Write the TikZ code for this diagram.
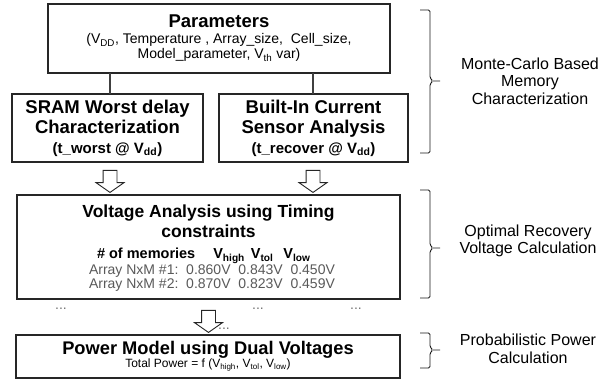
\documentclass[tikz,border=0pt]{standalone}
\usepackage{fontspec}
\setmainfont{Liberation Sans}
\usetikzlibrary{shapes.arrows}

\newcommand{\ttlf}{\fontsize{18.5}{20}\selectfont\bfseries}
\newcommand{\txtf}{\fontsize{14}{15}\selectfont}

\begin{document}
\begin{tikzpicture}[x=1pt,y=-1pt,inner sep=0pt,outer sep=0pt,line width=1.2pt,
blockbox/.style={draw=black!85,rectangle,align=center,line width=1.2pt},
downarrow/.style={draw=black!85,fill=white,single arrow,rotate=-90,minimum height=22pt,inner xsep=0pt,inner ysep=6.5pt,single arrow head extend=7pt,single arrow tip angle=110,line width=0.9pt},
conn/.style={draw=black!75,line width=1.2pt},
bracket/.style={draw=black!90,line width=0.9pt,rounded corners=1.5pt},
sidetext/.style={align=center,font=\fontsize{16}{17.5}\selectfont},
rowtext/.style={text=black!65,font=\txtf},
dotstext/.style={text=black!55,font=\txtf}]

\useasboundingbox (0,0) rectangle (603,383);

% memory characterization
\node[blockbox,minimum width=342pt,minimum height=69pt,font=\txtf] (params) at (219,38.5)
  {{\ttlf Parameters}\\[1pt] (V\textsubscript{DD}, Temperature , Array\_size,\ \ Cell\_size,\\ Model\_parameter, V\textsubscript{th} var)};
\node[blockbox,minimum width=191pt,minimum height=68pt,font=\ttlf] (sram) at (107.5,128)
  {SRAM Worst delay\\ Characterization\\ {\fontsize{15}{16}\selectfont (t\_worst @ V\textsubscript{dd})}};
\node[blockbox,minimum width=189pt,minimum height=68pt,font=\ttlf] (bics) at (313.5,128)
  {Built-In Current\\ Sensor Analysis\\ {\fontsize{15}{16}\selectfont (t\_recover @ V\textsubscript{dd})}};

\node[downarrow] (arr1) at (110,179) {};
\node[downarrow] (arr2) at (313,179) {};

% voltage calculation
\node[blockbox,minimum width=383pt,minimum height=104pt] (volt) at (208.5,247) {};
\node[align=center,font=\fontsize{17.5}{20}\selectfont\bfseries] (volttitle) at (208.5,221)
  {Voltage Analysis using Timing\\ constraints};
\node[font=\fontsize{14.5}{15}\selectfont\bfseries,anchor=west] (vhead) at (97,256)
  {\# of memories\hspace{18pt}V\textsubscript{high}\hspace{6pt}V\textsubscript{tol}\hspace{10pt}V\textsubscript{low}};
\node[rowtext,anchor=west] (vrow1) at (89,271) {Array NxM \#1:\ \ 0.860V\ \ 0.843V\ \ 0.450V};
\node[rowtext,anchor=west] (vrow2) at (89,285) {Array NxM \#2:\ \ 0.870V\ \ 0.823V\ \ 0.459V};

\node[dotstext] (dotsa) at (61,309) {...};
\node[dotstext] (dotsb) at (258,309) {...};
\node[dotstext] (dotsc) at (356,309) {...};
\node[downarrow] (arr3) at (208.5,319) {};
\node[dotstext] (dotsd) at (224,329) {...};

% power calculation
\node[blockbox,minimum width=384pt,minimum height=43pt,font=\fontsize{12}{13}\selectfont] (power) at (208,356.5)
  {{\fontsize{18.3}{20}\selectfont\bfseries Power Model using Dual Voltages}\\[0pt] Total Power = f (V\textsubscript{high}, V\textsubscript{tol}, V\textsubscript{low})};

\draw[conn] (params.south -| arr1) -- (sram.north -| arr1);
\draw[conn] (params.south -| arr2) -- (bics.north -| arr2);

% brackets on the right
\foreach \top/\mid/\bot in {10/81/153, 190/248/298, 333/350/368}
  \draw[bracket] (420,\top) -- (430,\top) -- (430,\mid-3) -- (433,\mid) -- (430,\mid+3) -- (430,\bot) -- (420,\bot)
    (433,\mid) -- (440,\mid);

\node[sidetext] (mclabel) at (530,81) {Monte-Carlo Based\\ Memory\\ Characterization};
\node[sidetext] (orlabel) at (528,241) {Optimal Recovery\\ Voltage Calculation};
\node[sidetext] (pplabel) at (528,349) {Probabilistic Power\\ Calculation};
\end{tikzpicture}
\end{document}
